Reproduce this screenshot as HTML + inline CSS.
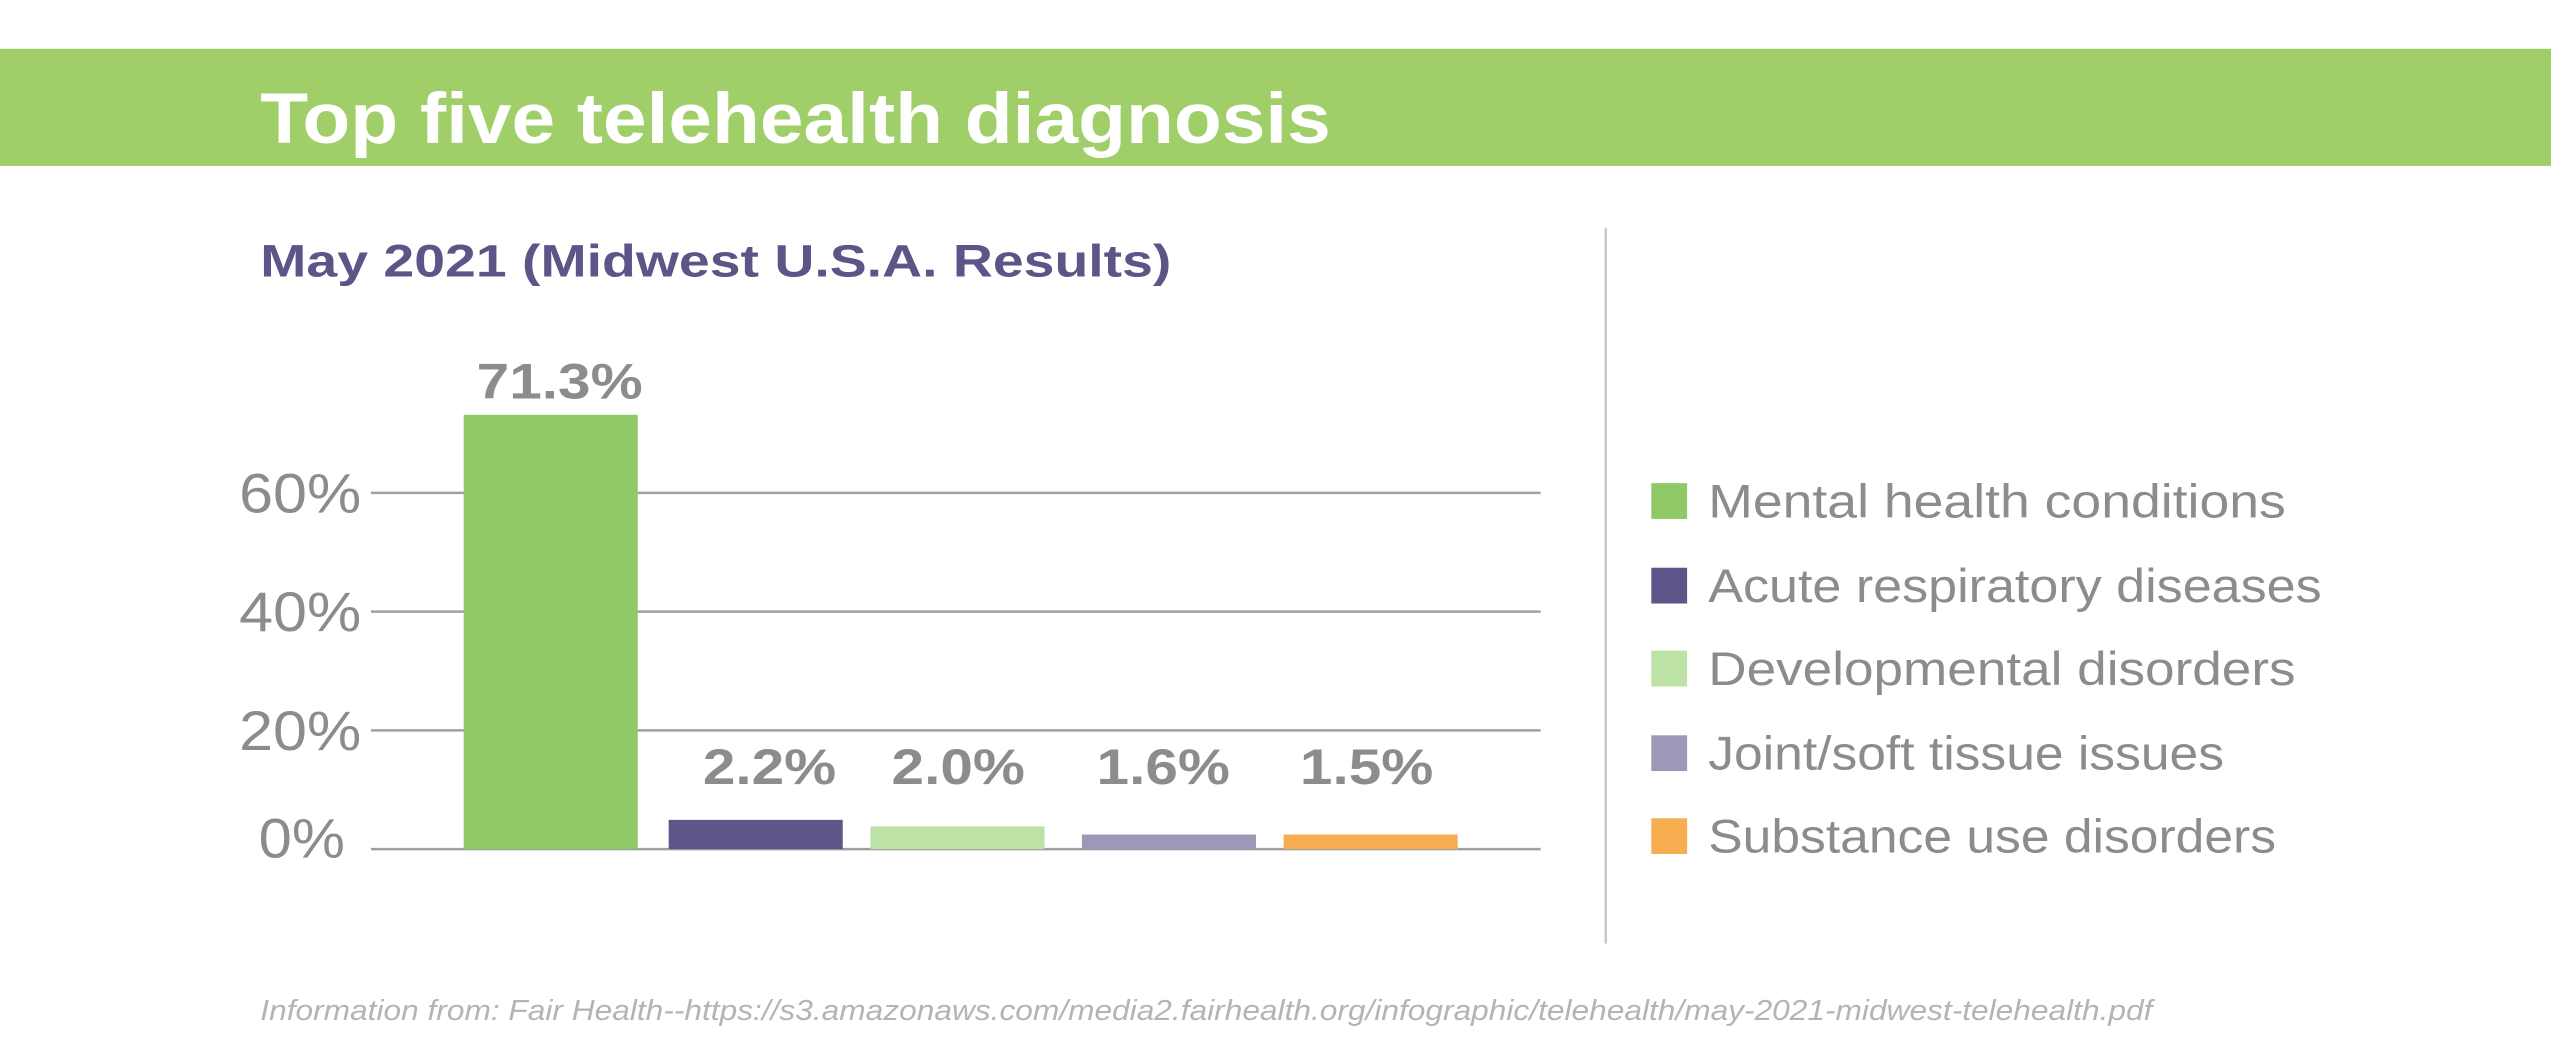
<!DOCTYPE html>
<html><head><meta charset="utf-8"><style>
html,body{margin:0;padding:0;background:#fff;}
svg{display:block;}
</style></head><body>
<svg width="2551" height="1059" viewBox="0 0 1568 651" preserveAspectRatio="none" xmlns="http://www.w3.org/2000/svg" font-family="'Liberation Sans', sans-serif">
<rect width="1568" height="651" fill="#fff"/>
<rect x="0" y="30" width="1568" height="72" fill="#a0cf6a"/>
<text x="160" y="88" font-size="44" font-weight="bold" fill="#fff" textLength="658" lengthAdjust="spacingAndGlyphs">Top five telehealth diagnosis</text>
<text x="160" y="170" font-size="28" font-weight="bold" fill="#5c5587" textLength="560" lengthAdjust="spacingAndGlyphs">May 2021 (Midwest U.S.A. Results)</text>
<line x1="987" y1="140" x2="987" y2="580" stroke="#c8c8c8" stroke-width="1.5"/>
<g stroke="#a0a0a0" stroke-width="1.5">
<line x1="228" y1="303" x2="947" y2="303"/>
<line x1="228" y1="376" x2="947" y2="376"/>
<line x1="228" y1="449" x2="947" y2="449"/>
<line x1="228" y1="522" x2="947" y2="522"/>
</g>
<g font-size="34" fill="#8c8c8c">
<text x="147" y="315" textLength="75" lengthAdjust="spacingAndGlyphs">60%</text>
<text x="147" y="388" textLength="75" lengthAdjust="spacingAndGlyphs">40%</text>
<text x="147" y="461" textLength="75" lengthAdjust="spacingAndGlyphs">20%</text>
<text x="159" y="527" textLength="53" lengthAdjust="spacingAndGlyphs">0%</text>
</g>
<rect x="285" y="255" width="107" height="267" fill="#8fc965"/>
<rect x="411" y="504" width="107" height="18" fill="#5e5689"/>
<rect x="535" y="508" width="107" height="14" fill="#bde2a5"/>
<rect x="665" y="513" width="107" height="9" fill="#9e98b8"/>
<rect x="789" y="513" width="107" height="9" fill="#f6ae51"/>
<g font-size="31" font-weight="bold" fill="#8c8c8c">
<text x="293" y="245" textLength="102" lengthAdjust="spacingAndGlyphs">71.3%</text>
<text x="432" y="482" textLength="82" lengthAdjust="spacingAndGlyphs">2.2%</text>
<text x="548" y="482" textLength="82" lengthAdjust="spacingAndGlyphs">2.0%</text>
<text x="674" y="482" textLength="82" lengthAdjust="spacingAndGlyphs">1.6%</text>
<text x="799" y="482" textLength="82" lengthAdjust="spacingAndGlyphs">1.5%</text>
</g>
<rect x="1015" y="297" width="22" height="22" fill="#8fc965"/>
<rect x="1015" y="349" width="22" height="22" fill="#5e5689"/>
<rect x="1015" y="400" width="22" height="22" fill="#bde2a5"/>
<rect x="1015" y="452" width="22" height="22" fill="#9e98b8"/>
<rect x="1015" y="503" width="22" height="22" fill="#f6ae51"/>
<g font-size="29" fill="#8c8c8c">
<text x="1050" y="318" textLength="355" lengthAdjust="spacingAndGlyphs">Mental health conditions</text>
<text x="1050" y="370" textLength="377" lengthAdjust="spacingAndGlyphs">Acute respiratory diseases</text>
<text x="1050" y="421" textLength="361" lengthAdjust="spacingAndGlyphs">Developmental disorders</text>
<text x="1050" y="473" textLength="317" lengthAdjust="spacingAndGlyphs">Joint/soft tissue issues</text>
<text x="1050" y="524" textLength="349" lengthAdjust="spacingAndGlyphs">Substance use disorders</text>
</g>
<text x="160" y="627" font-size="17.5" font-style="italic" fill="#b4b4b4" textLength="1163" lengthAdjust="spacingAndGlyphs">Information from: Fair Health--https://s3.amazonaws.com/media2.fairhealth.org/infographic/telehealth/may-2021-midwest-telehealth.pdf</text>
</svg>
</body></html>
